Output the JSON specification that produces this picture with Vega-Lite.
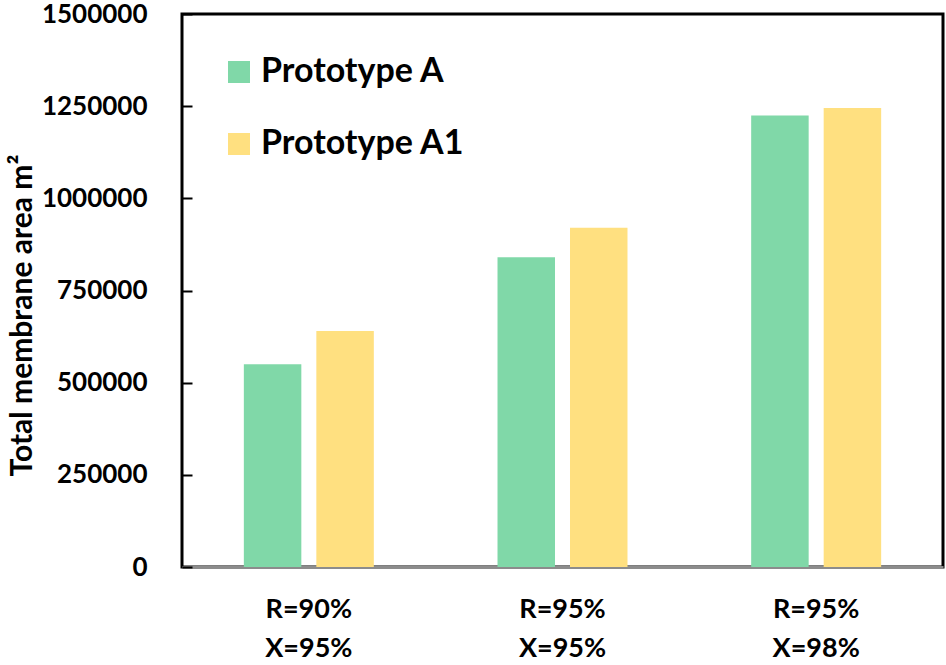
{
  "$schema": "https://vega.github.io/schema/vega-lite/v6.json",
  "width": 761,
  "height": 553,
  "autosize": "none",
  "padding": {"left": 182, "top": 14, "right": 3, "bottom": 98},
  "background": "white",
  "config": {
    "view": {"stroke": "black", "strokeWidth": 3},
    "font": "Lato"
  },
  "data": {
    "values": [
      {"label": "R=90%|X=95%", "series": "Prototype A", "area": 550000},
      {"label": "R=90%|X=95%", "series": "Prototype A1", "area": 640000},
      {"label": "R=95%|X=95%", "series": "Prototype A", "area": 840000},
      {"label": "R=95%|X=95%", "series": "Prototype A1", "area": 920000},
      {"label": "R=95%|X=98%", "series": "Prototype A", "area": 1225000},
      {"label": "R=95%|X=98%", "series": "Prototype A1", "area": 1245000}
    ]
  },
  "mark": {"type": "bar"},
  "encoding": {
    "x": {
      "field": "label",
      "type": "nominal",
      "sort": null,
      "scale": {"paddingInner": 0, "paddingOuter": 0},
      "axis": {
        "title": null,
        "labelAngle": 0,
        "labelExpr": "split(datum.label, '|')",
        "labelFont": "Lato",
        "labelFontSize": 27,
        "labelFontWeight": "bold",
        "labelColor": "black",
        "labelLineHeight": 39,
        "labelBaseline": "top",
        "labelPadding": 29,
        "ticks": false,
        "domainColor": "#8c8c8c",
        "domainWidth": 3
      }
    },
    "xOffset": {
      "field": "series",
      "type": "nominal",
      "scale": {"paddingInner": 0.207, "paddingOuter": 0.853}
    },
    "y": {
      "field": "area",
      "type": "quantitative",
      "scale": {"domain": [0, 1500000]},
      "axis": {
        "values": [0, 250000, 500000, 750000, 1000000, 1250000, 1500000],
        "format": "d",
        "grid": false,
        "domain": false,
        "tickColor": "black",
        "tickWidth": 2,
        "tickSize": -10,
        "labelPadding": 45,
        "labelFont": "Lato",
        "labelFontSize": 26,
        "labelFontWeight": "bold",
        "labelColor": "black",
        "title": "Total membrane area m²",
        "titleFont": "Lato",
        "titleFontSize": 30,
        "titleFontWeight": "bold",
        "titleColor": "black",
        "titleAngle": -90,
        "titleX": -160,
        "titleY": 301,
        "titleAlign": "center",
        "titleBaseline": "middle"
      }
    },
    "color": {
      "field": "series",
      "type": "nominal",
      "scale": {"domain": ["Prototype A", "Prototype A1"], "range": ["#80D8A8", "#FFE080"]},
      "legend": {
        "title": null,
        "orient": "none",
        "legendX": 40,
        "legendY": 41,
        "padding": 0,
        "symbolType": "square",
        "symbolSize": 484,
        "symbolStrokeWidth": 0,
        "symbolOpacity": 1,
        "labelFont": "Lato",
        "labelFontSize": 34,
        "labelFontWeight": "bold",
        "labelColor": "black",
        "labelOffset": 5,
        "labelLimit": 500,
        "rowPadding": 38
      }
    }
  }
}
